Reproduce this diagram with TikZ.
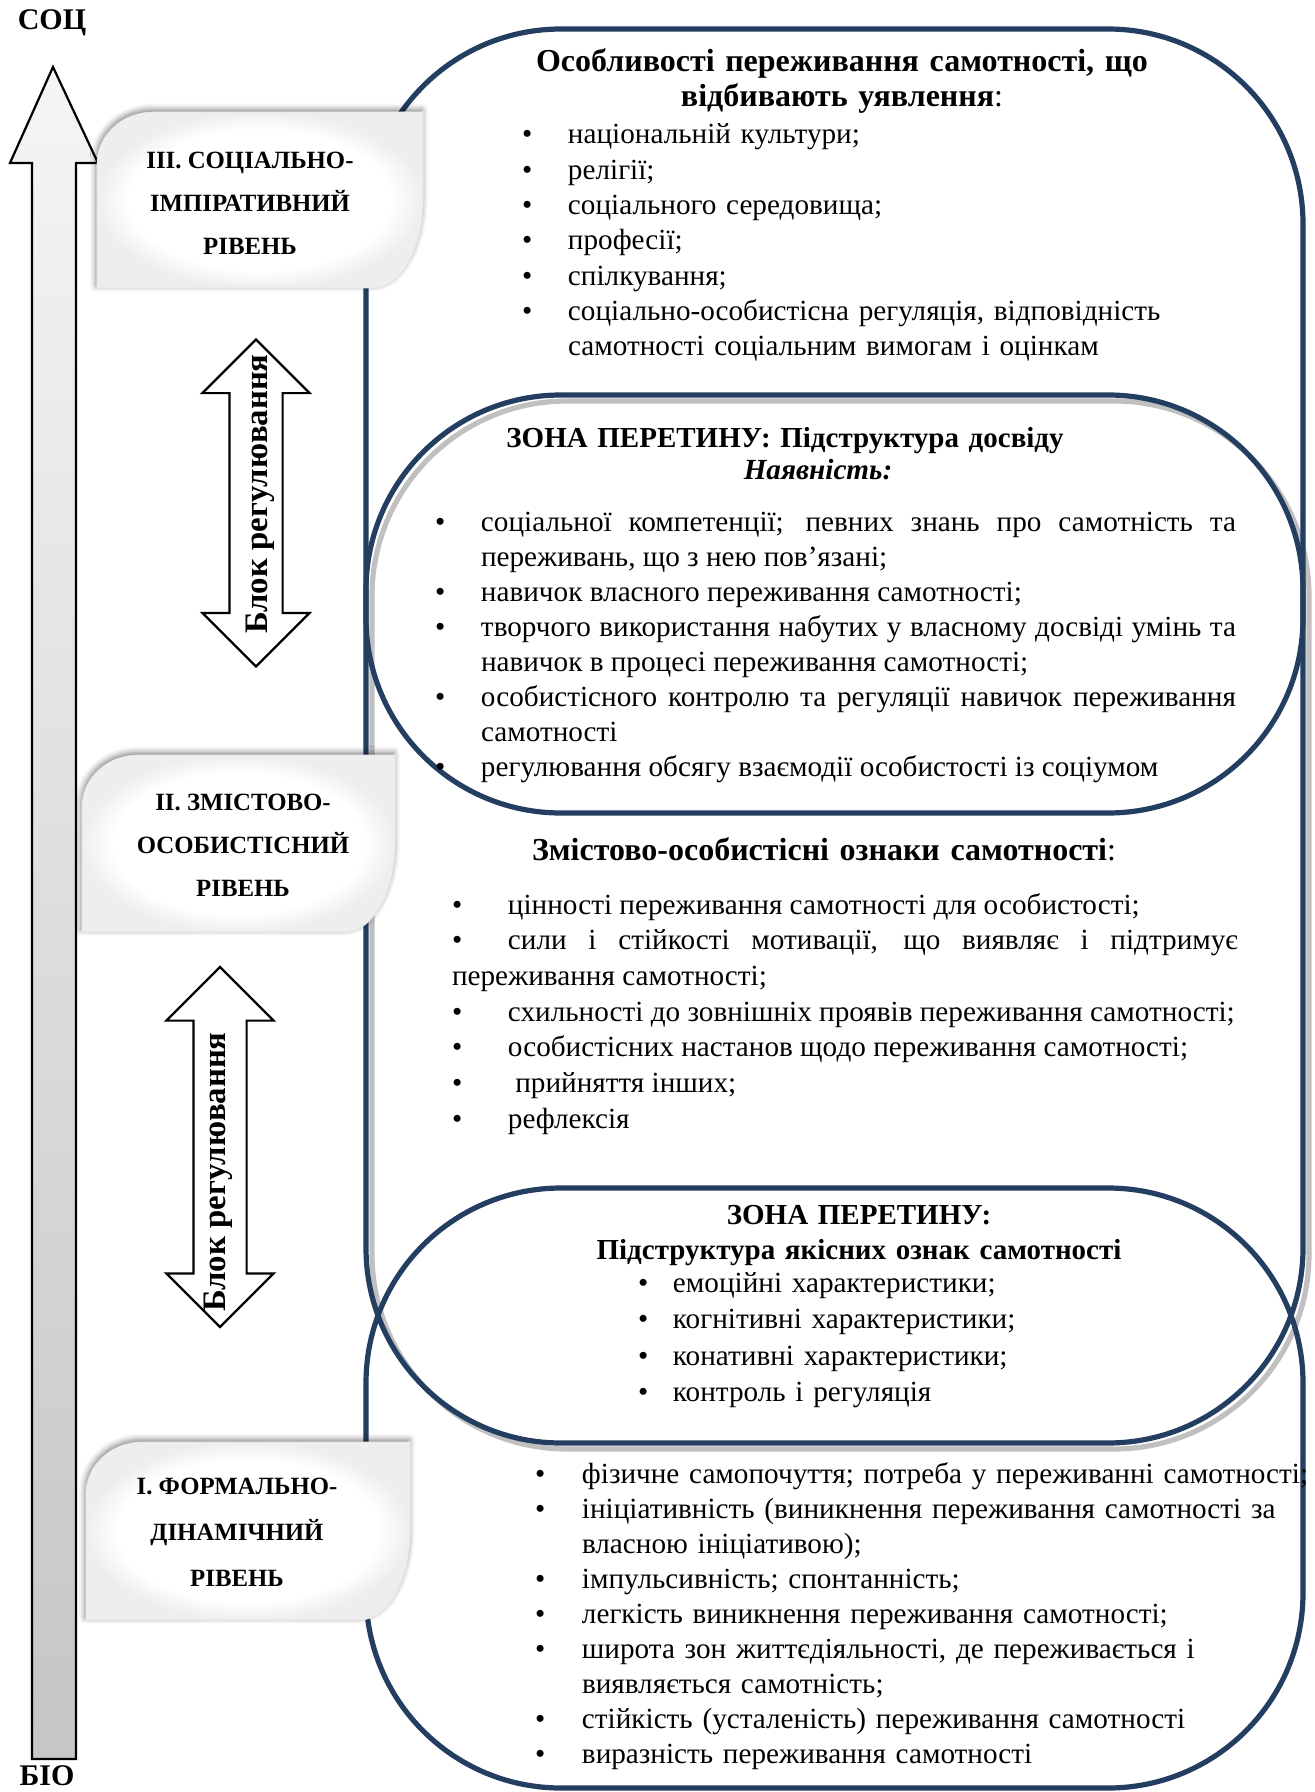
\documentclass[tikz,border=0pt]{standalone}
\usepackage{fontspec}
\setmainfont{Liberation Serif}
\usetikzlibrary{shapes.arrows,shadows.blur}

\definecolor{framenavy}{RGB}{35,62,96}
\definecolor{shadowgray}{RGB}{192,192,192}

\pgfdeclareradialshading{levelshade}{\pgfpoint{0bp}{0bp}}{color(0bp)=(white); color(20bp)=(white); color(25bp)=(gray!13); color(50bp)=(gray!13)}

\newlength{\bulw}
% bullet item with hanging indent / bullet item with flush wrap
\newcommand{\bitem}[1]{\noindent\unskip\hangindent=\bulw\hangafter=1\makebox[\bulw][l]{\textbullet}#1\par}
\newcommand{\fitem}[1]{\noindent\unskip\makebox[\bulw][l]{\textbullet}#1\par}

% leaf-shaped level box: x1,y1,x2,y2 (round top-left and bottom-right corners)
\newcommand{\leafbox}[4]{%
  \path[levelshape] (#1,#2+52) .. controls (#1,#2+23) and (#1+25,#2) .. (#1+56,#2)
    -- (#3,#2) -- (#3,#4-88) .. controls (#3,#4-40) and (#3-22,#4) .. (#3-50,#4)
    -- (#1,#4) -- cycle;}

\begin{document}
\begin{tikzpicture}[x=0.5pt, y=-0.5pt,
    every node/.style={inner sep=0pt, outer sep=0pt},
    zonebox/.style={draw=framenavy, line width=2.6pt, rounded corners=97.5pt},
    zoneshadow/.style={draw=shadowgray, line width=2.6pt, rounded corners=97.5pt},
    levelshape/.style={shade, shading=levelshade, draw=gray!20, line width=0.3pt,
      blur shadow={shadow xshift=-0.5pt, shadow yshift=1.2pt, shadow blur radius=3pt, shadow opacity=50}},
    leveltext/.style={align=center, font=\fontsize{12.4}{21.5}\selectfont\bfseries},
    regarrow/.style={double arrow, draw, line width=1.1pt, fill=white, rotate=90,
      inner xsep=0pt, inner ysep=12.75pt, double arrow head extend=13.5pt, minimum width=52.5pt},
    reglabel/.style={rotate=90, font=\fontsize{16.4}{18}\selectfont\bfseries},
    headtext/.style={anchor=base, text width=380pt, align=center, font=\fontsize{16}{17.5}\selectfont\bfseries},
    zonehead/.style={headtext, font=\fontsize{14.5}{17.5}\selectfont\bfseries},
    listtext/.style={anchor=base west, font=\fontsize{14.6}{17.6}\selectfont},
    axislabel/.style={font=\fontsize{15}{18}\selectfont\bfseries}
]
\useasboundingbox (0,0) rectangle (1314,1792);

% vertical axis
\draw[line width=1.1pt, top color=gray!8, bottom color=gray!45]
  (32,1759) -- (32,163) -- (10,163) -- (53,67) -- (98,163) -- (76,163) -- (76,1759) -- cycle;
\node[axislabel] (soc) at (52,23) {СОЦ};
\node[axislabel, anchor=base] (bio) at (47,1785) {БІО};

% three levels, overlapping
\draw[zoneshadow] (372,401) rectangle (1309,1449);
\draw[zonebox] (366,29) rectangle (1303,813);
\draw[zonebox] (366,395) rectangle (1303,1443);
\draw[zonebox] (366,1188) rectangle (1303,1788);

\leafbox{97}{112}{423}{288}
\leafbox{82}{755}{395}{932}
\leafbox{86}{1442}{410}{1620}

\node[leveltext] (lvl3) at (250,203) {III. СОЦІАЛЬНО-\\ІМПІРАТИВНИЙ\\РІВЕНЬ};
\node[leveltext] (lvl2) at (243,845) {II. ЗМІСТОВО-\\ОСОБИСТІСНИЙ\\РІВЕНЬ};
\node[leveltext, font=\fontsize{12.4}{23}\selectfont\bfseries] (lvl1) at (237,1532) {I. ФОРМАЛЬНО-\\ДІНАМІЧНИЙ\\РІВЕНЬ};

\node[regarrow, minimum height=163.5pt] (reg1) at (256,503) {};
\node[reglabel] (reg1lbl) at (260,494) {Блок регулювання};
\node[regarrow, minimum height=180pt] (reg2) at (220,1147) {};
\node[reglabel] (reg2lbl) at (218,1172) {Блок регулювання};

% level III
\node[headtext] (r3head) at (842,72) {Особливості переживання самотності, що\\відбивають уявлення\textmd{:}};
\node[listtext, text width=400pt, align=left, font=\fontsize{14.6}{17.65}\selectfont] (r3list) at (522,144) {\setlength{\bulw}{23pt}%
  \bitem{національній культури;}%
  \bitem{релігії;}%
  \bitem{соціального середовища;}%
  \bitem{професії;}%
  \bitem{спілкування;}%
  \bitem{соціально-особистісна регуляція, відповідність\newline самотності соціальним вимогам і оцінкам}};

% zone III / II
\node[zonehead] (z1head) at (785,447) {ЗОНА ПЕРЕТИНУ: Підструктура досвіду};
\node[zonehead, font=\fontsize{14.6}{17.5}\selectfont\bfseries\itshape] (z1sub) at (818,479) {Наявність:};
\node[listtext, text width=400.5pt, align=justify, font=\fontsize{14.6}{17.55}\selectfont] (z1list) at (435,531) {\setlength{\bulw}{23pt}%
  \bitem{соціальної компетенції; певних знань про самотність та\linebreak переживань, що з нею пов’язані;}%
  \bitem{навичок власного переживання самотності;}%
  \bitem{творчого використання набутих у власному досвіді умінь та\linebreak навичок в процесі переживання самотності;}%
  \bitem{особистісного контролю та регуляції навичок переживання\linebreak самотності}%
  \bitem{регулювання обсягу взаємодії особистості із соціумом}};

% level II
\node[headtext] (r2head) at (824,860) {Змістово-особистісні ознаки самотності\textmd{:}};
\node[listtext, text width=393pt, align=justify, font=\fontsize{14.6}{17.85}\selectfont] (r2list) at (452,914) {\setlength{\bulw}{28pt}%
  \fitem{цінності переживання самотності для особистості;}%
  \fitem{сили і стійкості мотивації, що виявляє і підтримує\linebreak переживання самотності;}%
  \fitem{схильності до зовнішніх проявів переживання самотності;}%
  \fitem{особистісних настанов щодо переживання самотності;}%
  \fitem{\ прийняття інших;}%
  \fitem{рефлексія}};

% zone II / I
\node[zonehead] (z2head) at (859,1224) {ЗОНА ПЕРЕТИНУ:\\Підструктура якісних ознак самотності};
\node[listtext, text width=250pt, align=left, font=\fontsize{14.6}{18.3}\selectfont] (z2list) at (638,1292) {\setlength{\bulw}{17.5pt}%
  \bitem{емоційні характеристики;}%
  \bitem{когнітивні характеристики;}%
  \bitem{конативні характеристики;}%
  \bitem{контроль і регуляція}};

% level I
\node[listtext, text width=400pt, align=left, font=\fontsize{14.6}{17.55}\selectfont] (r1list) at (535,1483) {\setlength{\bulw}{23.5pt}%
  \bitem{фізичне самопочуття; потреба у переживанні самотності;}%
  \bitem{ініціативність (виникнення переживання самотності за\newline власною ініціативою);}%
  \bitem{імпульсивність; спонтанність;}%
  \bitem{легкість виникнення переживання самотності;}%
  \bitem{широта зон життєдіяльності, де переживається і\newline виявляється самотність;}%
  \bitem{стійкість (усталеність) переживання самотності}%
  \bitem{виразність переживання самотності}};

\end{tikzpicture}
\end{document}
